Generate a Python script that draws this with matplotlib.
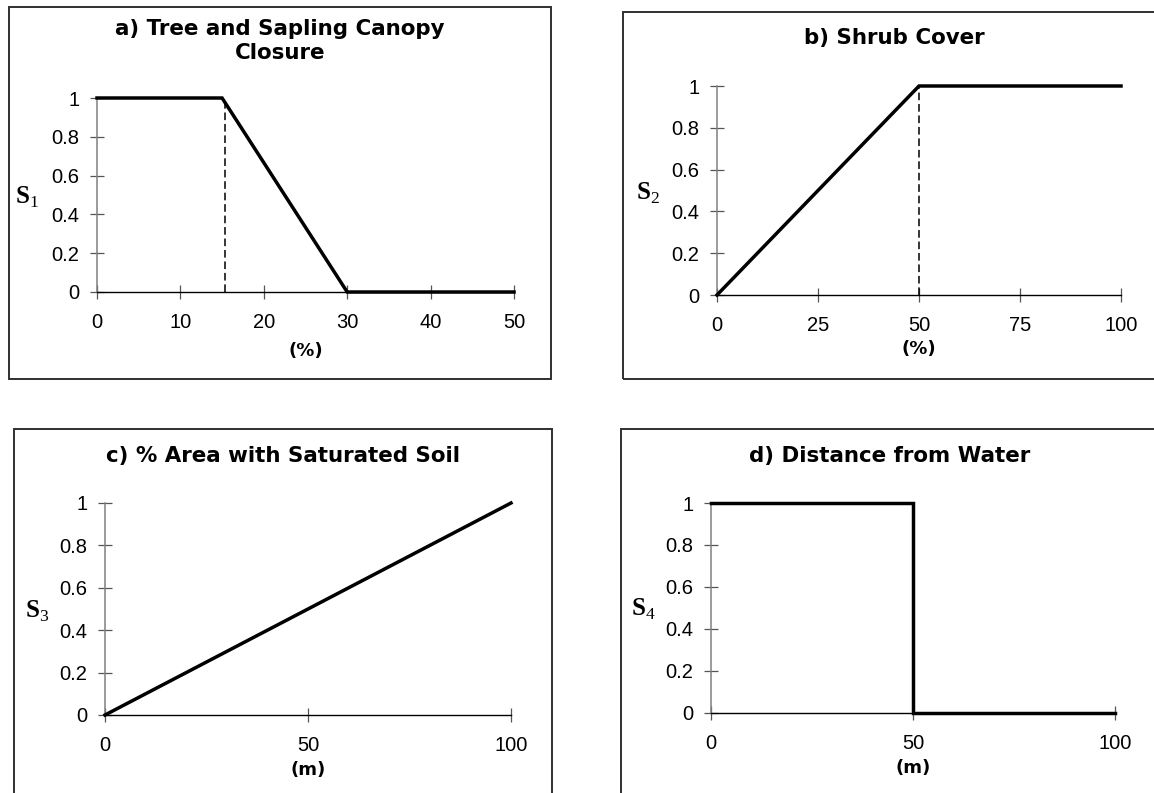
import matplotlib
matplotlib.use("Agg")
import matplotlib.pyplot as plt
from matplotlib.patches import Rectangle

# ---------------- data ----------------
a_x = [0, 15, 30, 50]
a_y = [1, 1, 0, 0]
a_dash_x = 15.3

b_x = [0, 50, 100]
b_y = [0, 1, 1]
b_dash_x = 50

c_x = [0, 100]
c_y = [0, 1]

d_x = [0, 50, 50, 100]
d_y = [1, 1, 0, 0]

a_xticks = [0, 10, 20, 30, 40, 50]
b_xticks = [0, 25, 50, 75, 100]
c_xticks = [0, 50, 100]
d_xticks = [0, 50, 100]
yticks = [0, 0.2, 0.4, 0.6, 0.8, 1]
ytick_labels = ["0", "0.2", "0.4", "0.6", "0.8", "1"]

titles = ["a) Tree and Sapling Canopy\nClosure", "b) Shrub Cover",
          "c) % Area with Saturated Soil", "d) Distance from Water"]
xlabels = ["(%)", "(%)", "(m)", "(m)"]
ylabels = [r"$\mathbf{S}_{\mathrm{1}}$", r"$\mathbf{S}_{\mathrm{2}}$",
           r"$\mathbf{S}_{\mathrm{3}}$", r"$\mathbf{S}_{\mathrm{4}}$"]

# ---------------- style ----------------
plt.rcParams["font.family"] = ["Liberation Sans", "DejaVu Sans"]
plt.rcParams["mathtext.fontset"] = "custom"
plt.rcParams["mathtext.rm"] = "Liberation Serif"
plt.rcParams["mathtext.bf"] = "Liberation Serif:bold"

W, H = 1154, 793
fig = plt.figure(figsize=(W / 100, H / 100), dpi=100)

# layout in pixels (left, top, right, bottom)
axes_boxes = [(97, 98, 514, 292), (717, 86, 1121, 295),
              (105, 503, 511, 715), (711, 503, 1115, 713)]
frames = [(9, 7, 551, 379), (623, 12, 1175, 379),
          (14, 429, 552, 815), (621, 429, 1175, 815)]
title_pos = [(280, 41), (894, 38), (283, 456), (890, 456)]
xlabel_y = [351, 349, 770, 768]
ylabel_pos = [(27, 197), (648, 193), (37, 611), (643, 609)]

xs = [a_x, b_x, c_x, d_x]
ys = [a_y, b_y, c_y, d_y]
xticks_all = [a_xticks, b_xticks, c_xticks, d_xticks]
dashes = [a_dash_x, b_dash_x, None, None]

for (l, t, r, b) in frames:
    fig.patches.append(Rectangle((l / W, 1 - b / H), (r - l) / W, (b - t) / H,
                                 transform=fig.transFigure, fill=False,
                                 edgecolor="#303030", linewidth=1.4))

for i in range(4):
    l, t, r, b = axes_boxes[i]
    ax = fig.add_axes([l / W, 1 - b / H, (r - l) / W, (b - t) / H])
    ax.patch.set_alpha(0)

    def to_ax(px, py, l=l, t=t, r=r, b=b):
        return (px - l) / (r - l), (b - py) / (b - t)

    xt = xticks_all[i]
    ax.set_xlim(xt[0], xt[-1])
    ax.set_ylim(0, 1)
    ax.set_xticks(xt)
    ax.set_xticklabels([str(v) for v in xt])
    ax.set_yticks(yticks)
    ax.set_yticklabels(ytick_labels)

    for s in ("top", "right"):
        ax.spines[s].set_visible(False)
    ax.spines["left"].set_color("#808080")
    ax.spines["left"].set_linewidth(1.1)
    ax.spines["bottom"].set_color("black")
    ax.spines["bottom"].set_linewidth(1.0)

    ax.tick_params(axis="both", direction="inout", length=9.4, width=0.9,
                   color="#555555", labelsize=14.5, labelcolor="black")
    ax.tick_params(axis="y", pad=8)
    ax.tick_params(axis="x", pad=10.5)

    if dashes[i] is not None:
        ax.plot([dashes[i], dashes[i]], [0, 1], color="black", lw=1.1,
                linestyle=(0, (5, 2.5)), clip_on=False, zorder=2)
    ax.plot(xs[i], ys[i], color="black", lw=2.5, clip_on=False,
            solid_joinstyle="miter", zorder=3)

    tx, ty = to_ax(*title_pos[i])
    ax.set_title(titles[i], x=tx, y=ty, va="center", ha="center", pad=0,
                 fontsize=15.4, fontweight="bold", family="DejaVu Sans",
                 linespacing=1.3)

    ax.set_xlabel(xlabels[i], fontsize=13, fontweight="bold",
                  family="DejaVu Sans")
    ax.xaxis.label.set_va("center")
    ax.xaxis.set_label_coords(0.5, to_ax(0, xlabel_y[i])[1])

    ax.set_ylabel(ylabels[i], rotation=0, fontsize=18, ha="center", va="center")
    ax.yaxis.set_label_coords(*to_ax(*ylabel_pos[i]))

fig.savefig("out.png", dpi=100)
